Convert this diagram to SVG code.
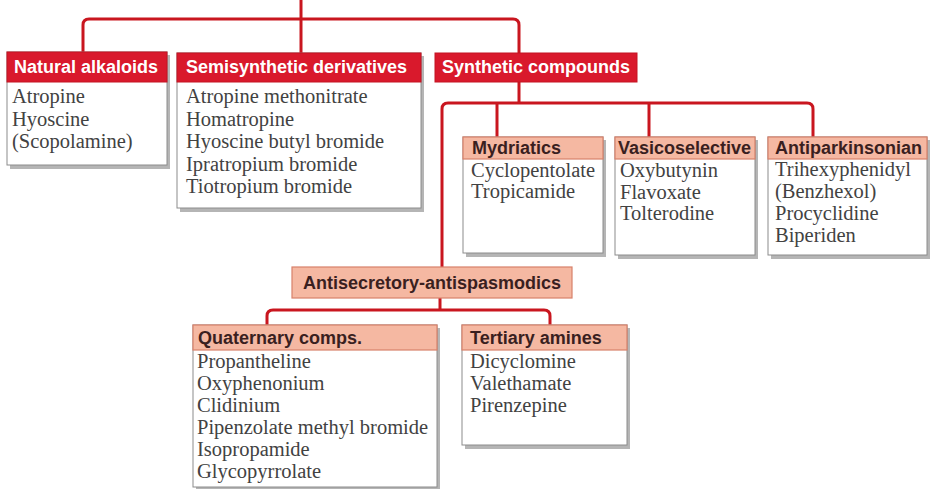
<svg xmlns="http://www.w3.org/2000/svg" width="931" height="489" viewBox="0 0 931 489">
<style>
.conn{fill:none;stroke:#c9161f;stroke-width:3;stroke-linejoin:round}
.shadow{fill:#9c9c9c;opacity:0.75}
.body{fill:#ffffff;stroke:#8c8c8c;stroke-width:1}
.hred{fill:#d9192c;stroke:#c41422;stroke-width:1}
.hsal{fill:#f5b8a2;stroke:#d8806a;stroke-width:1.2}
.tred{font-family:"Liberation Sans",Arial,sans-serif;font-weight:bold;font-size:18px;fill:#ffffff}
.tsal{font-family:"Liberation Sans",Arial,sans-serif;font-weight:bold;font-size:18px;fill:#3a1f1f}
.item{font-family:"Liberation Serif","Times New Roman",serif;font-size:20.5px;fill:#424242}
</style>
<rect width="931" height="489" fill="#ffffff"/>
<g id="connectors">
<path class="conn" d="M301,0 V53"/>
<path class="conn" d="M83,53 V25 Q83,19 89,19 H513 Q519,19 519,25 V53"/>
<path class="conn" d="M519,82 V103"/>
<path class="conn" d="M442,267 V109 Q442,103 448,103 H807 Q813,103 813,109 V137"/>
<path class="conn" d="M497,103 V137"/>
<path class="conn" d="M649,103 V137"/>
<path class="conn" d="M440,298 V310"/>
<path class="conn" d="M267,325 V316 Q267,310 273,310 H544 Q550,310 550,316 V325"/>
</g>
<g id="natural">
<rect class="shadow" x="10" y="55" width="160" height="114"/>
<rect class="body" x="7" y="52" width="160" height="113"/>
<rect class="hred" x="7" y="52" width="160" height="30"/>
<text class="tred" x="14" y="73">Natural alkaloids</text>
<text class="item" x="12" y="103">Atropine</text>
<text class="item" x="12" y="125.5">Hyoscine</text>
<text class="item" x="12" y="148">(Scopolamine)</text>
</g>
<g id="semisynthetic">
<rect class="shadow" x="180" y="56" width="244" height="156"/>
<rect class="body" x="177" y="53" width="244" height="155"/>
<rect class="hred" x="177" y="53" width="244" height="29"/>
<text class="tred" x="186" y="73">Semisynthetic derivatives</text>
<text class="item" x="186" y="103">Atropine methonitrate</text>
<text class="item" x="186" y="125.5">Homatropine</text>
<text class="item" x="186" y="148">Hyoscine butyl bromide</text>
<text class="item" x="186" y="170.5">Ipratropium bromide</text>
<text class="item" x="186" y="193">Tiotropium bromide</text>
</g>
<g id="synthetic">
<rect class="hred" x="435" y="53" width="202" height="29"/>
<text class="tred" x="442" y="73">Synthetic compounds</text>
</g>
<g id="mydriatics">
<rect class="shadow" x="466" y="140" width="140" height="117"/>
<rect class="body" x="463" y="137" width="140" height="116"/>
<rect class="hsal" x="463" y="137" width="140" height="22"/>
<text class="tsal" x="472" y="154">Mydriatics</text>
<text class="item" x="471" y="177">Cyclopentolate</text>
<text class="item" x="471" y="198">Tropicamide</text>
</g>
<g id="vasicoselective">
<rect class="shadow" x="618" y="140" width="140" height="119"/>
<rect class="body" x="615" y="137" width="140" height="118"/>
<rect class="hsal" x="615" y="137" width="140" height="22"/>
<text class="tsal" x="618" y="154">Vasicoselective</text>
<text class="item" x="620" y="177">Oxybutynin</text>
<text class="item" x="620" y="198.5">Flavoxate</text>
<text class="item" x="620" y="220">Tolterodine</text>
</g>
<g id="antiparkinsonian">
<rect class="shadow" x="771" y="140" width="159" height="119"/>
<rect class="body" x="768" y="137" width="159" height="118"/>
<rect class="hsal" x="768" y="137" width="159" height="22"/>
<text class="tsal" x="775" y="154">Antiparkinsonian</text>
<text class="item" x="775" y="176">Trihexyphenidyl</text>
<text class="item" x="775" y="198">(Benzhexol)</text>
<text class="item" x="775" y="220">Procyclidine</text>
<text class="item" x="775" y="242">Biperiden</text>
</g>
<g id="antisecretory">
<rect class="hsal" x="292" y="267" width="280" height="31"/>
<text class="tsal" x="432" y="289" text-anchor="middle">Antisecretory-antispasmodics</text>
</g>
<g id="quaternary">
<rect class="shadow" x="196" y="328" width="244" height="163"/>
<rect class="body" x="193" y="325" width="244" height="162"/>
<rect class="hsal" x="193" y="325" width="244" height="25"/>
<text class="tsal" x="198" y="344">Quaternary comps.</text>
<text class="item" x="197" y="368">Propantheline</text>
<text class="item" x="197" y="390">Oxyphenonium</text>
<text class="item" x="197" y="412">Clidinium</text>
<text class="item" x="197" y="434">Pipenzolate methyl bromide</text>
<text class="item" x="197" y="456">Isopropamide</text>
<text class="item" x="197" y="478">Glycopyrrolate</text>
</g>
<g id="tertiary">
<rect class="shadow" x="465" y="328" width="165" height="121"/>
<rect class="body" x="462" y="325" width="165" height="120"/>
<rect class="hsal" x="462" y="325" width="165" height="25"/>
<text class="tsal" x="470" y="344">Tertiary amines</text>
<text class="item" x="470" y="368">Dicyclomine</text>
<text class="item" x="470" y="390">Valethamate</text>
<text class="item" x="470" y="412">Pirenzepine</text>
</g>
</svg>
